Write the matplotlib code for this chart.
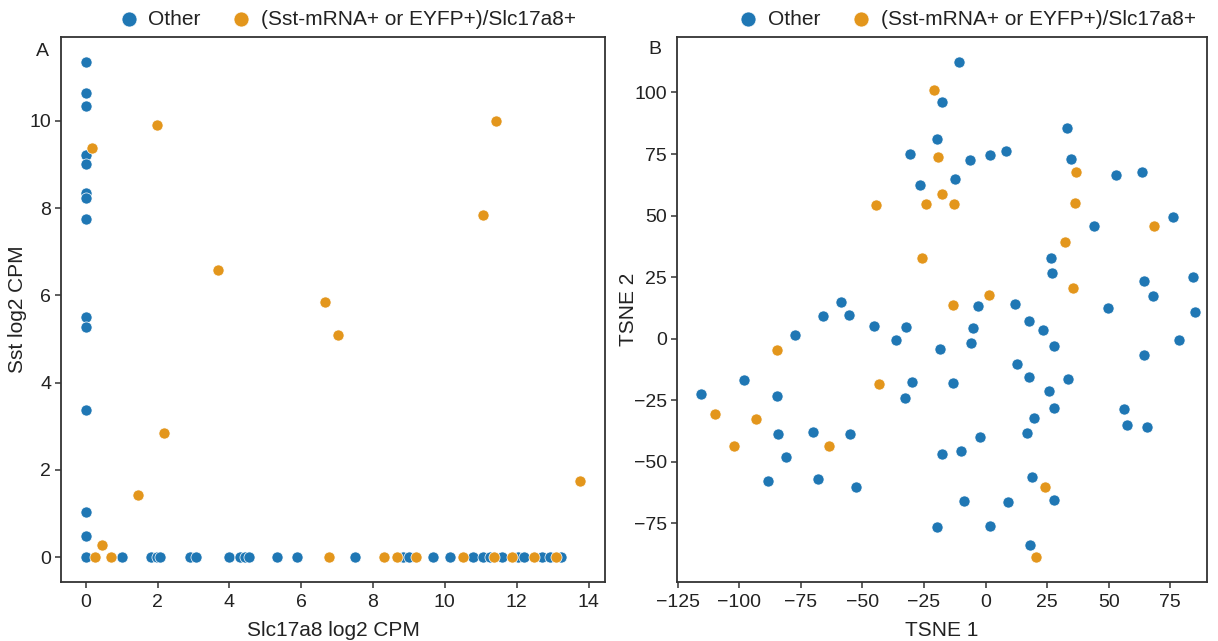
import numpy as np
import matplotlib.pyplot as plt

plt.rcParams['font.family'] = ['Liberation Sans', 'DejaVu Sans']
plt.rcParams['text.color'] = '#222222'
plt.rcParams['axes.labelcolor'] = '#222222'
plt.rcParams['xtick.color'] = '#333333'
plt.rcParams['ytick.color'] = '#333333'
plt.rcParams['xtick.labelcolor'] = '#222222'
plt.rcParams['ytick.labelcolor'] = '#222222'

blue = '#1f77b4'
orange = '#e3961c'
labels = ['Other', '(Sst-mRNA+ or EYFP+)/Slc17a8+']

# panel A: Slc17a8 vs Sst expression (log2 CPM)
other_sst_at_zero_x = [11.35, 10.64, 10.34, 9.22, 9.01, 8.35, 8.23, 7.75,
                       5.50, 5.28, 3.37, 1.04, 0.48, 0.0]
other_slc_at_zero_y = [1.00, 1.81, 1.99, 2.08, 2.90, 3.06, 3.99, 4.29, 4.43,
                       4.55, 5.33, 5.87, 7.50, 8.84, 9.01, 9.68, 10.14, 10.78,
                       11.07, 11.26, 11.59, 12.05, 12.19, 12.70, 12.93, 13.23]
other_slc = [0.0] * len(other_sst_at_zero_x) + other_slc_at_zero_y
other_sst = other_sst_at_zero_x + [0.0] * len(other_slc_at_zero_y)

pos_slc = [0.17, 1.98, 11.43, 11.06, 3.68, 6.66, 7.02, 2.17, 1.45, 13.77, 0.46,
           0.27, 0.71, 6.78, 8.31, 8.66, 9.20, 10.50, 11.37, 11.86, 12.47, 13.10]
pos_sst = [9.38, 9.90, 9.99, 7.84, 6.58, 5.85, 5.09, 2.85, 1.43, 1.75, 0.27,
           0.0, 0.0, 0.0, 0.0, 0.0, 0.0, 0.0, 0.0, 0.0, 0.0, 0.0]

# panel B: TSNE embedding
other_t1 = [-10.7, -17.5, -19.6, -30.6, -6.5, -26.8, -12.5, 2.0, 8.2, 33.0,
            34.9, 53.0, 63.4, 76.0, 44.2, 26.4, 26.8, 64.5, 84.4, 68.2, 11.9,
            49.6, 85.1, 17.6, -58.8, -3.1, -66.2, -55.6, -77.5, -45.2, -32.3,
            -4.9, -6.1, -18.4, -36.4, -98.0, -115.7, -84.7, -29.9, -32.9,
            -13.1, -84.4, -70.1, -55.2, -80.9, -17.7, -10.1, -2.2, -88.5,
            -68.2, -52.4, -8.8, -19.9, 23.4, 27.7, 78.7, 64.4, 12.6, 17.6,
            33.4, 25.7, 27.7, 19.8, 17.0, 56.1, 57.5, 65.6, 18.7, 28.0, 9.1,
            1.9, 18.1]
other_t2 = [112.4, 96.1, 81.0, 75.2, 72.6, 62.6, 64.8, 74.8, 76.4, 85.4,
            72.9, 66.4, 67.7, 49.5, 45.9, 32.7, 26.6, 23.5, 25.1, 17.4, 14.0,
            12.4, 10.9, 7.0, 14.8, 13.1, 9.2, 9.7, 1.5, 5.1, 4.7, 4.2, -1.9,
            -4.3, -0.5, -16.6, -22.3, -23.1, -17.5, -24.2, -17.9, -38.7,
            -37.8, -38.9, -47.9, -47.0, -45.5, -39.8, -57.8, -57.0, -60.3,
            -65.9, -76.6, 3.6, -3.0, -0.4, -6.5, -10.4, -15.7, -16.2, -21.2,
            -28.2, -32.1, -38.2, -28.5, -34.9, -35.8, -56.0, -65.7, -66.5,
            -76.0, -83.8]
pos_t1 = [-20.8, -19.4, -17.6, -24.2, -12.6, -44.6, -25.8, -13.1, 36.7, 36.4,
          68.3, 32.1, 35.4, 1.5, -84.5, -110.0, -93.3, -43.1, -102.3, -63.7,
          24.1, 20.4]
pos_t2 = [101.1, 73.6, 58.6, 54.5, 54.8, 54.3, 32.7, 13.8, 67.5, 55.1, 45.7,
          39.1, 20.4, 17.7, -4.5, -30.8, -32.8, -18.5, -43.6, -43.6, -60.3,
          -88.8]

fig = plt.figure(figsize=(12.18, 6.41), dpi=100)
ax1 = fig.add_axes([0.0501, 0.092, 0.4466, 0.850])
ax2 = fig.add_axes([0.5558, 0.092, 0.4351, 0.850])

kw = dict(s=64, edgecolors='white', linewidths=0.5)
for ax, ox, oy, px, py, lx in [(ax1, other_slc, other_sst, pos_slc, pos_sst, 0.526),
                               (ax2, other_t1, other_t2, pos_t1, pos_t2, 0.547)]:
    ax.scatter(ox, oy, color=blue, label=labels[0], **kw)
    ax.scatter(px, py, color=orange, label=labels[1], **kw)
    for sp in ax.spines.values():
        sp.set_linewidth(1.3)
        sp.set_color('#333333')
    ax.tick_params(direction='out', length=4, width=1.1, labelsize=14, pad=3)
    ax.tick_params(axis='x', pad=4.5)
    ax.legend(loc='lower center', bbox_to_anchor=(lx, 1.0), ncol=2,
              frameon=False, fontsize=15, handlelength=1.0, handletextpad=0.45,
              columnspacing=1.45, markerscale=1.35, borderaxespad=0.0)

ax1.set_xticks(np.arange(0, 15, 2))
ax1.set_yticks(np.arange(0, 11, 2))
ax1.set_xlabel('Slc17a8 log2 CPM', fontsize=15, labelpad=7)
ax1.set_ylabel('Sst log2 CPM', fontsize=15, labelpad=1.5)

ax2.set_xlim(-125.3, 89.9)
ax2.set_xticks(np.arange(-125, 76, 25))
ax2.set_yticks(np.arange(-75, 101, 25))
ax2.set_xticklabels([str(v).replace('-', '\u2212') for v in range(-125, 76, 25)])
ax2.set_yticklabels([str(v).replace('-', '\u2212') for v in range(-75, 101, 25)])
ax2.set_xlabel('TSNE 1', fontsize=15, labelpad=7)
ax2.set_ylabel('TSNE 2', fontsize=15, labelpad=-2.5)

fig.text(42 / 1218, 1 - 51 / 641, 'A', fontsize=14, ha='center', va='center')
fig.text(655 / 1218, 1 - 49 / 641, 'B', fontsize=14, ha='center', va='center')

fig.savefig('out.png', dpi=100)
